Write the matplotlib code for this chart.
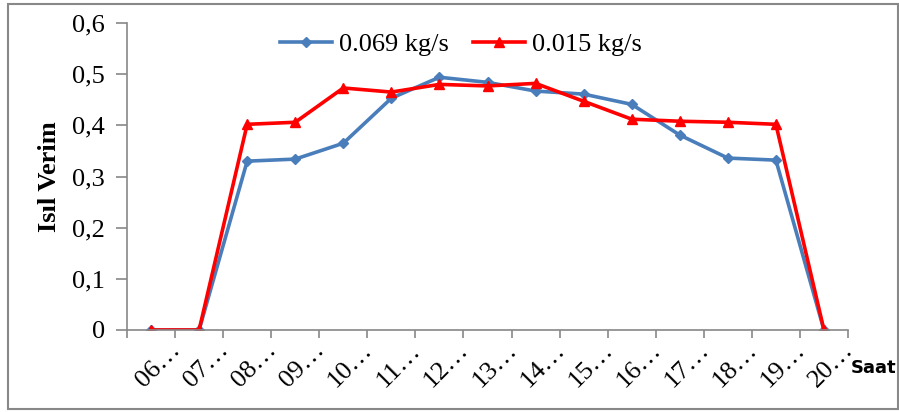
import matplotlib.pyplot as plt
import matplotlib.transforms as mtransforms
from matplotlib.patches import Rectangle

# hourly thermal efficiency for two mass flow rates
hours = ['06', '07', '08', '09', '10', '11', '12', '13', '14', '15', '16', '17', '18', '19', '20']
eff_069 = [0, 0, 0.330, 0.334, 0.365, 0.453, 0.494, 0.484, 0.467, 0.461, 0.441, 0.381, 0.336, 0.332, 0]
eff_015 = [0, 0, 0.402, 0.406, 0.473, 0.465, 0.480, 0.477, 0.482, 0.447, 0.412, 0.408, 0.406, 0.402, 0]
tick_labels = [h + '\u2026' for h in hours]

serif = 'Liberation Serif'

fig = plt.figure(figsize=(8.99, 4.12), dpi=100)
ax = fig.add_axes([127 / 899, 1 - 330 / 412, (848 - 127) / 899, (330 - 23) / 412])

x = list(range(len(hours)))
ax.plot(x, eff_069, color='#4a7ebb', lw=2.6, marker='D', ms=5, label='0.069 kg/s')
ax.plot(x, eff_015, color='#ff0000', lw=2.6, marker='^', ms=7, label='0.015 kg/s')

ax.set_xlim(-0.5, len(hours) - 0.5)
ax.set_ylim(0, 0.6)
ax.set_yticks([0, 0.1, 0.2, 0.3, 0.4, 0.5, 0.6])
ax.set_yticklabels(['0', '0,1', '0,2', '0,3', '0,4', '0,5', '0,6'], fontfamily=serif, fontsize=19)

# category ticks sit on the boundaries, labels near each boundary
ax.set_xticks([i + 0.5 for i in x[:-1]] + [-0.5, len(hours) - 0.5])
ax.set_xticklabels([])
lab_tr = (mtransforms.blended_transform_factory(ax.transData, ax.transAxes)
          + mtransforms.Affine2D().translate(18, -9))
for i, lab in enumerate(tick_labels):
    ax.text(i, 0, lab, transform=lab_tr, rotation=45, ha='right', va='top',
            rotation_mode='anchor', fontfamily=serif, fontsize=19)

for s in ['top', 'right']:
    ax.spines[s].set_visible(False)
for s in ['left', 'bottom']:
    ax.spines[s].set_color('#888888')
    ax.spines[s].set_linewidth(1.2)
ax.tick_params(axis='both', color='#888888', width=1.2)
ax.tick_params(axis='y', length=8, direction='out', pad=8)
ax.tick_params(axis='x', length=6, direction='out')

ax.set_ylabel('Is\u0131l Verim', fontfamily=serif, fontsize=19, fontweight='bold', labelpad=8)
fig.text(851 / 899, 1 - 368 / 412, 'Saat', fontfamily='DejaVu Sans', fontsize=13,
         fontweight='bold', va='center', ha='left')

leg = ax.legend(loc='upper center', bbox_to_anchor=(0.463, 1.045), ncol=2, frameon=False,
                prop={'family': serif, 'size': 19}, handlelength=2.0, handletextpad=0.25,
                columnspacing=0.9)

# chart border
fig.patches.append(Rectangle((8 / 899, 3 / 412), 1 - 9 / 899, 1 - 7 / 412, transform=fig.transFigure,
                             fill=False, edgecolor='#888888', lw=1.5))

fig.savefig('out.png', dpi=100)
